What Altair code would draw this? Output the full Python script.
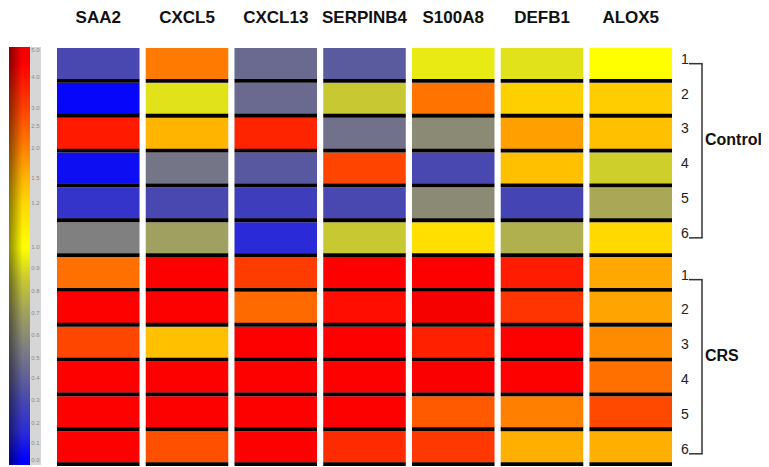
import altair as alt
import pandas as pd
import numpy as np

# ---------------- data ----------------
genes = ["SAA2", "CXCL5", "CXCL13", "SERPINB4", "S100A8", "DEFB1", "ALOX5"]
groups = ["Control", "CRS"]
samples = ["1", "2", "3", "4", "5", "6"]

saa2     = [0.30, 0.02, 3.90, 0.05, 0.20, 0.55, 2.25, 4.60, 2.90, 4.60, 4.60, 4.60]
cxcl5    = [2.10, 0.92, 1.50, 0.50, 0.30, 0.70, 4.60, 4.60, 1.40, 4.60, 4.60, 2.75]
cxcl13   = [0.45, 0.45, 3.65, 0.37, 0.25, 0.15, 3.10, 2.34, 4.60, 4.60, 4.60, 4.60]
serpinb4 = [0.38, 0.85, 0.48, 2.94, 0.30, 0.85, 4.60, 4.20, 4.60, 4.60, 4.60, 3.50]
s100a8   = [0.94, 2.20, 0.60, 0.30, 0.60, 1.16, 4.60, 4.90, 3.75, 4.70, 2.60, 3.20]
defb1    = [0.92, 1.26, 1.69, 1.40, 0.28, 0.76, 3.84, 3.28, 4.60, 4.60, 2.00, 1.55]
alox5    = [1.00, 1.29, 1.40, 0.87, 0.73, 1.19, 1.62, 1.65, 1.88, 2.25, 2.87, 1.55]
values_by_gene = [saa2, cxcl5, cxcl13, serpinb4, s100a8, defb1, alox5]

# colour bar tick labels
cb_values = [0.0, 0.1, 0.2, 0.3, 0.4, 0.5, 0.6, 0.7, 0.8, 0.9, 1.0, 1.2, 1.5, 2.0, 2.5, 3.0, 4.0, 5.0]

# ---------------- scales / styles ----------------
color_domain = [0, 0.15, 0.3, 0.45, 0.55, 0.7, 0.85, 1.0, 1.2, 1.5, 2.0, 3.0, 4.5, 5.0]
color_range = ["#0000ff", "#2a2ad8", "#4848b0", "#6a6a90", "#808080", "#a0a060",
               "#c8c832", "#ffff00", "#ffd700", "#ffb400", "#ff8000", "#ff4000",
               "#ff0000", "#f40000"]
color_scale = alt.Scale(domain=color_domain, range=color_range, interpolate="rgb")

# pixel positions of the colour-bar ticks (plot-area coordinates)
cb_pix = [412, 395, 375, 352, 330, 310, 287, 265, 243, 220, 199, 155, 130, 100, 78, 60, 29, 2]
cb_scale = alt.Scale(domain=cb_values, range=cb_pix)

xs = alt.Scale(domain=[0, 6.93], nice=False, zero=False)
ys = alt.Scale(domain=[0, 12], reverse=True, nice=False, zero=False)

FONT = "Liberation Sans, Arial, sans-serif"
GROUP_SHIFT = "(datum.group == 'CRS' ? 0.2 : 0)"

rows = []
for gi, (g, vals) in enumerate(zip(genes, values_by_gene)):
    for ri, v in enumerate(vals):
        rows.append({"gene": g, "gi": gi, "ri": ri, "group": groups[ri // 6],
                     "sample": samples[ri % 6], "value": v})
df = pd.DataFrame(rows)

# ---------------- colour bar ----------------
bar_top, bar_bot = -1, 417
stops = []
for v, c in zip(color_domain, color_range):
    py = float(np.interp(v, cb_values, cb_pix))
    off = (bar_bot - py) / (bar_bot - bar_top)
    stops.append(alt.GradientStop(offset=round(min(max(off, 0), 1), 4), color=c))

one = pd.DataFrame({"a": [0]})
cb_rect = alt.Chart(one).mark_rect(
    fill=alt.Gradient(gradient="linear", stops=stops, x1=0, x2=0, y1=1, y2=0)
).encode(x=alt.value(-48), x2=alt.value(-27), y=alt.value(bar_top), y2=alt.value(bar_bot))

cb_shade = alt.Chart(one).mark_rect(
    fill=alt.Gradient(gradient="linear",
                      stops=[alt.GradientStop(offset=0, color="rgba(0,0,0,0.45)"),
                             alt.GradientStop(offset=0.65, color="rgba(0,0,0,0)")],
                      x1=0, x2=1, y1=0, y2=0)
).encode(x=alt.value(-48), x2=alt.value(-27), y=alt.value(bar_top), y2=alt.value(bar_bot))

cb_strip = alt.Chart(one).mark_rect(fill="#d6d6d6").encode(
    x=alt.value(-27), x2=alt.value(-16), y=alt.value(bar_top), y2=alt.value(bar_bot))

cb_labels = alt.Chart(pd.DataFrame({"v": cb_values})).mark_text(
    fontSize=6, color="#8a8a8a", font=FONT
).encode(
    x=alt.value(-21.5),
    y=alt.Y("v:Q", scale=cb_scale, axis=None),
    text=alt.Text("v:Q", format=".1f"),
)

# ---------------- heatmap ----------------
cells = alt.Chart(df).mark_rect().transform_calculate(
    x1="datum.gi + 0.93", y1="datum.ri + 0.9"
).encode(
    x=alt.X("gi:Q", scale=xs, axis=None), x2="x1:Q",
    y=alt.Y("ri:Q", scale=ys, axis=None), y2="y1:Q",
    color=alt.Color("value:Q", scale=color_scale, legend=None),
    tooltip=["gene:N", "group:N", "sample:N", "value:Q"],
)

seps = alt.Chart(df).mark_rect(color="#050000").transform_calculate(
    x1="datum.gi + 0.93", y0="datum.ri + 0.89", y1="datum.ri + 1"
).encode(
    x=alt.X("gi:Q", scale=xs, axis=None), x2="x1:Q",
    y=alt.Y("y0:Q", scale=ys, axis=None), y2="y1:Q",
)

gene_df = pd.DataFrame({"gene": genes, "gi": list(range(len(genes)))})
gene_labels = alt.Chart(gene_df).mark_text(
    fontSize=17, fontWeight="bold", font=FONT, baseline="alphabetic", color="#111111"
).transform_calculate(xc="datum.gi + 0.465").encode(
    x=alt.X("xc:Q", scale=xs, axis=None), y=alt.value(-25), text="gene:N")

row_df = df[df.gi == 0][["ri", "sample", "group"]]
row_labels = alt.Chart(row_df).mark_text(
    fontSize=14, font=FONT, color="#222222", dy=-4
).transform_calculate(yc="datum.ri + 0.45 + " + GROUP_SHIFT).encode(
    x=alt.value(628), y=alt.Y("yc:Q", scale=ys, axis=None), text="sample:N")

grp_df = pd.DataFrame({"group": groups, "first": [0, 6], "last": [5, 11]})
grp = alt.Chart(grp_df).transform_calculate(
    top="datum.first + 0.45 + " + GROUP_SHIFT,
    bot="datum.last + 0.45 + " + GROUP_SHIFT,
    mid="(datum.first + datum.last) / 2 + 0.45 + " + GROUP_SHIFT)

br_v = grp.mark_rule(color="#333333", strokeWidth=1.5).encode(
    x=alt.value(645), y=alt.Y("top:Q", scale=ys, axis=None), y2="bot:Q")
br_t = grp.mark_rule(color="#333333", strokeWidth=1.5).encode(
    x=alt.value(632), x2=alt.value(645.7), y=alt.Y("top:Q", scale=ys, axis=None))
br_b = grp.mark_rule(color="#333333", strokeWidth=1.5).encode(
    x=alt.value(632), x2=alt.value(645.7), y=alt.Y("bot:Q", scale=ys, axis=None))
grp_labels = grp.mark_text(
    align="left", fontSize=16, fontWeight="bold", font=FONT, color="#111111", dy=-11
).encode(x=alt.value(648), y=alt.Y("mid:Q", scale=ys, axis=None), text="group:N")

chart = alt.layer(
    cb_rect, cb_shade, cb_strip, cb_labels,
    cells, seps, gene_labels, row_labels, br_v, br_t, br_b, grp_labels,
).resolve_scale(y="independent").properties(
    width=615, height=418,
    padding={"left": 49, "top": 40, "right": 89, "bottom": 1},
    autosize=alt.AutoSizeParams(type="none"),
    background="white",
).configure_view(stroke=None)

chart.save("out.html", embed_options={"renderer": "svg", "actions": False})
